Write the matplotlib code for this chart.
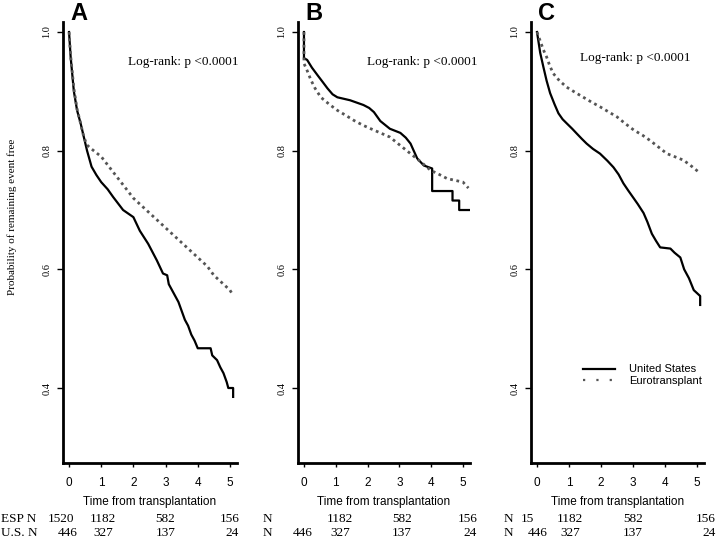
import matplotlib
matplotlib.use("Agg")
import matplotlib.pyplot as plt
from matplotlib.lines import Line2D

# Kaplan-Meier curves (time in years, survival)
a_us_t = [0, 0.05, 0.15, 0.25, 0.36, 0.46, 0.56, 0.7, 0.85, 1.0, 1.2, 1.37, 1.68, 2.0, 2.2,
          2.46, 2.73, 2.92, 3.05, 3.1, 3.2, 3.3, 3.4, 3.5, 3.6, 3.7, 3.8, 3.9, 4.0, 4.4, 4.45,
          4.6, 4.7, 4.8, 4.9, 4.95, 5.1, 5.1]
a_us_s = [1.0, 0.958, 0.90, 0.868, 0.846, 0.823, 0.80, 0.773, 0.759, 0.747, 0.735, 0.722, 0.70,
          0.688, 0.665, 0.643, 0.615, 0.593, 0.59, 0.575, 0.565, 0.555, 0.545, 0.53, 0.515,
          0.505, 0.49, 0.48, 0.467, 0.467, 0.455, 0.447, 0.435, 0.425, 0.41, 0.40, 0.40, 0.385]
a_et_t = [0, 0.05, 0.15, 0.25, 0.35, 0.45, 0.55, 0.65, 1.0, 1.5, 2.0, 2.5, 3.0, 3.5, 4.0, 4.3,
          4.5, 4.8, 5.0, 5.1]
a_et_s = [1.0, 0.96, 0.905, 0.87, 0.848, 0.825, 0.81, 0.805, 0.79, 0.755, 0.72, 0.695, 0.67,
          0.645, 0.62, 0.605, 0.59, 0.575, 0.565, 0.556]

b_us_t = [0, 0, 0.1, 0.25, 0.43, 0.6, 0.74, 0.9, 1.05, 1.45, 1.87, 2.05, 2.2, 2.4, 2.7,
          3.03, 3.2, 3.35, 3.45, 3.56, 3.77, 4.03, 4.03, 4.67, 4.67, 4.88, 4.88, 5.24]
b_us_s = [1.0, 0.956, 0.953, 0.94, 0.927, 0.915, 0.905, 0.895, 0.89, 0.885, 0.877, 0.872,
          0.865, 0.85, 0.837, 0.83, 0.822, 0.812, 0.80, 0.787, 0.775, 0.77, 0.732, 0.732,
          0.716, 0.716, 0.70, 0.70]
b_et_t = [0, 0, 0.1, 0.22, 0.35, 0.53, 0.8, 1.05, 1.3, 1.57, 1.85, 2.1, 2.4, 2.7, 3.0,
          3.35, 3.7, 3.98, 4.25, 4.5, 4.75, 5.0, 5.17]
b_et_s = [1.0, 0.947, 0.935, 0.919, 0.905, 0.89, 0.878, 0.868, 0.86, 0.851, 0.843, 0.837,
          0.83, 0.823, 0.81, 0.795, 0.78, 0.767, 0.76, 0.753, 0.75, 0.747, 0.737]

c_us_t = [0, 0.1, 0.2, 0.3, 0.41, 0.55, 0.67, 0.8, 0.93, 1.1, 1.24, 1.4, 1.55, 1.75, 1.97,
          2.2, 2.39, 2.55, 2.7, 2.85, 3.02, 3.15, 3.33, 3.45, 3.59, 3.72, 3.85, 4.17, 4.3,
          4.48, 4.6, 4.75, 4.9, 5.1, 5.1]
c_us_s = [1.0, 0.965, 0.941, 0.918, 0.897, 0.878, 0.863, 0.853, 0.846, 0.837, 0.829, 0.82,
          0.812, 0.803, 0.795, 0.783, 0.772, 0.76, 0.745, 0.733, 0.72, 0.71, 0.695, 0.68,
          0.66, 0.648, 0.637, 0.635, 0.628, 0.62, 0.60, 0.585, 0.565, 0.555, 0.54]
c_et_t = [0, 0.1, 0.2, 0.3, 0.4, 0.51, 0.7, 0.93, 1.2, 1.45, 1.7, 1.97, 2.25, 2.5, 2.75,
          3.02, 3.3, 3.54, 3.8, 4.06, 4.3, 4.58, 4.85, 5.1]
c_et_s = [1.0, 0.985, 0.97, 0.958, 0.943, 0.93, 0.918, 0.907, 0.898, 0.89, 0.882, 0.874,
          0.865, 0.857, 0.846, 0.835, 0.826, 0.817, 0.806, 0.795, 0.79, 0.784, 0.773, 0.762]

# numbers at risk
esp_n = [["1520", "1182", "582", "156"], ["1182", "582", "156"], ["15", "1182", "582", "156"]]
us_n = [["446", "327", "137", "24"], ["446", "327", "137", "24"], ["446", "327", "137", "24"]]
esp_pos = [[-0.25, 1.05, 3.0, 5.0], [1.13, 3.08, 5.16], [-0.31, 1.03, 3.0, 5.28]]
us_pos = [[-0.03, 1.05, 3.0, 5.06], [-0.03, 1.13, 3.08, 5.22], [0.03, 1.03, 3.0, 5.38]]

panels = ["A", "B", "C"]
curves = [(a_us_t, a_us_s, a_et_t, a_et_s),
          (b_us_t, b_us_s, b_et_t, b_et_s),
          (c_us_t, c_us_s, c_et_t, c_et_s)]
logrank_x = [1.83, 1.98, 1.34]
logrank_y = [0.949, 0.949, 0.956]

SERIF = "Liberation Serif"
SANS = "Liberation Sans"
W, H = 716, 542

fig = plt.figure(figsize=(7.16, 5.42), dpi=100)
# axes extents in pixels (left, right)
ax_px = [(62.6, 237), (297.6, 470), (530.6, 704)]
top, bottom = 22, 463

for i, (l, r) in enumerate(ax_px):
    ax = fig.add_axes([l / W, (H - bottom) / H, (r - l) / W, (bottom - top) / H])
    us_t, us_s, et_t, et_s = curves[i]
    ax.plot(us_t, us_s, color="black", lw=1.6)
    ax.plot(et_t, et_s, linestyle=(0, (1, 1.3)), color="#555555", lw=2.0)
    ax.set_xlim(-0.2, 5.22)
    ax.set_ylim(0.2736, 1.0169)
    for s in ["top", "right"]:
        ax.spines[s].set_visible(False)
    for s in ["left", "bottom"]:
        ax.spines[s].set_linewidth(2)
    ax.set_xticks([0, 1, 2, 3, 4, 5])
    ax.set_yticks([0.4, 0.6, 0.8, 1.0])
    ax.set_xticklabels(["0", "1", "2", "3", "4", "5"], fontfamily=SANS, fontsize=8.5)
    ax.set_yticklabels(["0.4", "0.6", "0.8", "1.0"], fontfamily=SERIF, fontsize=7.5,
                       rotation=90, va="center")
    ax.tick_params(axis="x", length=3, width=1, pad=7)
    ax.tick_params(axis="y", length=4, width=1, pad=4)
    ax.set_xlabel("Time from transplantation", fontfamily=SANS, fontsize=8.5, labelpad=5)
    ax.text(0.094, 1.02, panels[i], transform=ax.transAxes, ha="center", va="center",
            fontsize=17, fontweight="bold", fontfamily=SANS)
    ax.text(logrank_x[i], logrank_y[i], "Log-rank: p <0.0001", ha="left", va="center",
            fontsize=9.5, fontfamily=SERIF)

    tr = ax.get_xaxis_transform()
    for lab, x in zip(esp_n[i], esp_pos[i]):
        ax.text(x, -0.127, lab, transform=tr, ha="center", va="center", fontsize=9.5,
                fontfamily=SERIF, clip_on=False)
    for lab, x in zip(us_n[i], us_pos[i]):
        ax.text(x, -0.159, lab, transform=tr, ha="center", va="center", fontsize=9.5,
                fontfamily=SERIF, clip_on=False)

    if i == 2:
        handles = [Line2D([], [], color="black", lw=1.6),
                   Line2D([], [], color="#555555", lw=1.6, linestyle=(0, (1, 5)))]
        ax.legend(handles, ["United States", "Eurotransplant"], frameon=False,
                  loc="upper left", bbox_to_anchor=(0.273, 0.236), borderpad=0,
                  handlelength=2.8, handletextpad=1.3, labelspacing=0.15,
                  prop={"family": SANS, "size": 8})

# row labels for numbers at risk
y1 = (H - 519) / H
y2 = (H - 533) / H
fig.text(1 / W, y1, "ESP N", ha="left", va="center", fontsize=9.5, fontfamily=SERIF)
fig.text(1 / W, y2, "U.S. N", ha="left", va="center", fontsize=9.5, fontfamily=SERIF)
for xc in [267, 508]:
    fig.text(xc / W, y1, "N", ha="center", va="center", fontsize=9.5, fontfamily=SERIF)
    fig.text(xc / W, y2, "N", ha="center", va="center", fontsize=9.5, fontfamily=SERIF)

fig.text(12 / W, (H - 217) / H, "Probability of remaining event free", rotation=90,
         ha="center", va="center", fontsize=8, fontfamily=SERIF)

fig.savefig("out.png", dpi=100)
